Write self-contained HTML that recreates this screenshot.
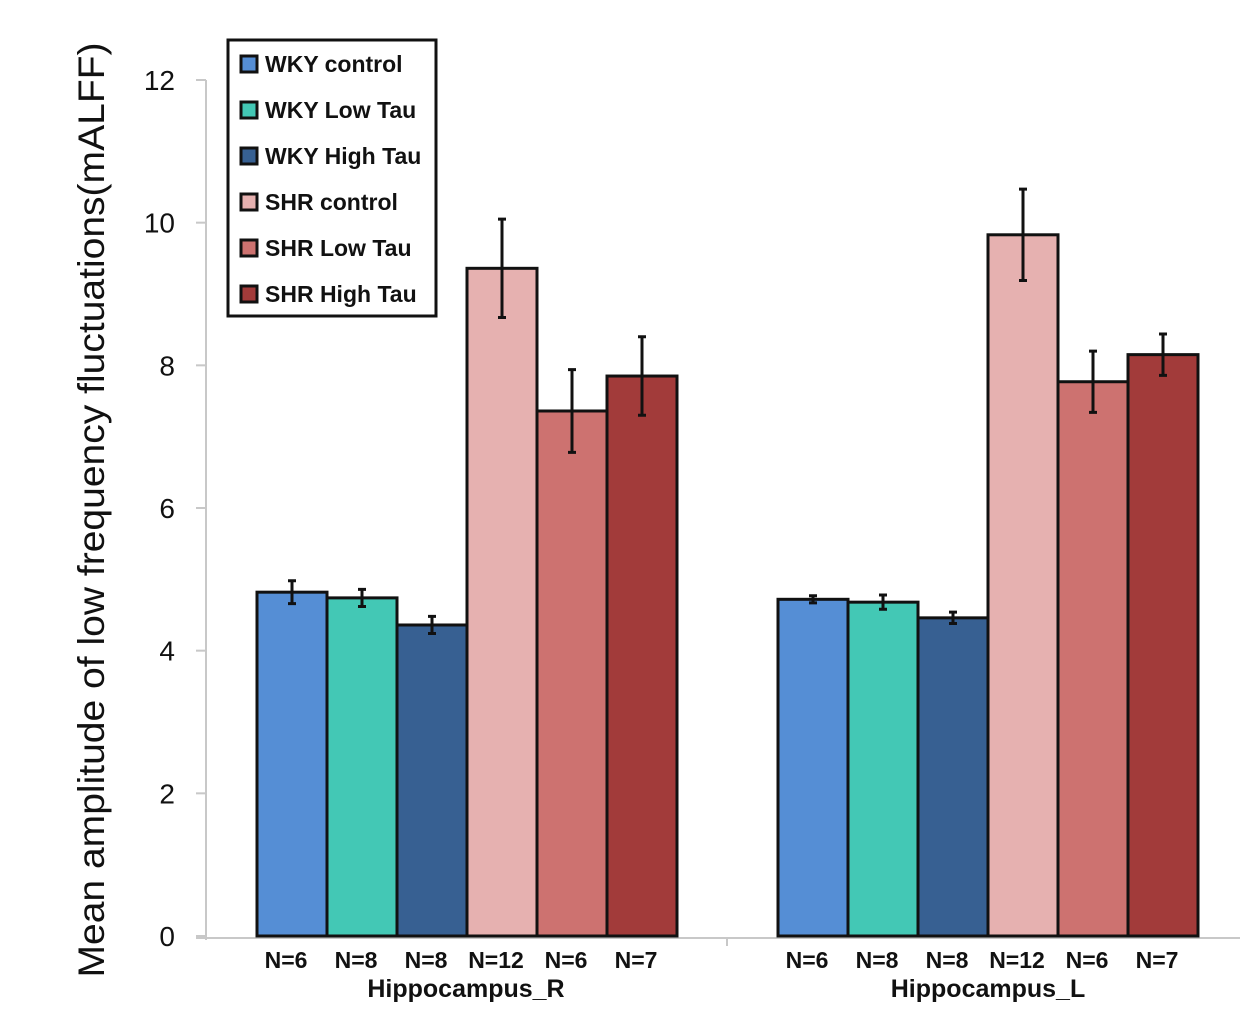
<!DOCTYPE html>
<html><head><meta charset="utf-8"><style>
body{margin:0;background:#fff;}
svg{display:block;font-family:"Liberation Sans",sans-serif;}
</style></head><body>
<svg id="chart" width="1242" height="1029" viewBox="0 0 1242 1029" xmlns="http://www.w3.org/2000/svg">
<g id="axes"></g><g id="bars"></g><g id="legend"></g>
</svg>
<script>
const regions = ["Hippocampus_R", "Hippocampus_L"];
const seriesNames = ["WKY control","WKY Low Tau","WKY High Tau","SHR control","SHR Low Tau","SHR High Tau"];
const seriesColors = ["#558ed5","#43c8b5","#376092","#e6b1b0","#cd7270","#a23b3a"];
const valuesR = [4.82, 4.74, 4.36, 9.36, 7.36, 7.85];
const valuesL = [4.72, 4.68, 4.46, 9.83, 7.77, 8.15];
const errR = [0.16, 0.12, 0.12, 0.69, 0.58, 0.55];
const errL = [0.05, 0.1, 0.08, 0.64, 0.43, 0.29];
const nLabelsR = ["N=6","N=8","N=8","N=12","N=6","N=7"];
const nLabelsL = ["N=6","N=8","N=8","N=12","N=6","N=7"];
const yTicks = [0, 2, 4, 6, 8, 10, 12];

const NS = "http://www.w3.org/2000/svg";
function mk(tag, attrs, parent, text){const e=document.createElementNS(NS,tag);for(const k in attrs)e.setAttribute(k,attrs[k]);if(text!==undefined)e.textContent=text;parent.appendChild(e);return e;}
const y0=936, yTop=80, yMax=12;
const yS = v => y0 - v*(y0-yTop)/yMax;
const groupStart=[257,778], barW=70;
const xBar = (g,i) => groupStart[g] + i*barW;
const groupLabelX=[466,988];

const axes=document.getElementById('axes');
let e=mk('line',{x1:206,y1:yTop,x2:206,y2:940,stroke:'#c8c8c8','stroke-width':2},axes);


e=mk('line',{x1:196,y1:938,x2:1240,y2:938,stroke:'#c8c8c8','stroke-width':2},axes);


mk('line',{x1:727,y1:938,x2:727,y2:946,stroke:'#c8c8c8','stroke-width':2},axes);
yTicks.forEach(t=>{
  mk('line',{x1:196,y1:yS(t),x2:206,y2:yS(t),stroke:'#c8c8c8','stroke-width':2},axes);
  const tx=mk('text',{x:175,y:yS(t)+10,'text-anchor':'end','font-size':28,fill:'#111'},axes,String(t));
  
  
});
e=mk('text',{x:0,y:0,transform:'translate(104,510) rotate(-90)','text-anchor':'middle','font-size':37,fill:'#111',textLength:935,lengthAdjust:'spacingAndGlyphs'},axes,'Mean amplitude of low frequency fluctuations(mALFF)');



const bars=document.getElementById('bars');
[[valuesR,errR,nLabelsR],[valuesL,errL,nLabelsL]].forEach((d,g)=>{
  d[0].forEach((v,i)=>{
    const x=xBar(g,i);
    const r=mk('rect',{x:x,y:yS(v),width:barW,height:y0-yS(v),fill:seriesColors[i],stroke:'#111','stroke-width':3},bars);
    
    
    const cx=x+barW/2, hi=yS(v+d[1][i]), lo=yS(v-d[1][i]);
    const eb=mk('path',{d:`M${cx},${hi}V${lo}M${cx-4},${hi}H${cx+4}M${cx-4},${lo}H${cx+4}`,stroke:'#111','stroke-width':3,fill:'none'},bars);
    
    
    const nl=mk('text',{x:cx-6,y:968,'text-anchor':'middle','font-size':23,'font-weight':'bold',fill:'#111'},bars,d[2][i]);
    
    
  });
  const gl=mk('text',{x:groupLabelX[g],y:997,'text-anchor':'middle','font-size':25,'font-weight':'bold',fill:'#111'},bars,regions[g]);
  
  
});

const leg=document.getElementById('legend');
e=mk('rect',{x:228,y:40,width:208,height:276,fill:'#fff',stroke:'#111','stroke-width':3},leg);


seriesNames.forEach((n,i)=>{
  const y=64+i*46;
  const s=mk('rect',{x:241,y:y-8,width:16,height:16,fill:seriesColors[i],stroke:'#111','stroke-width':3},leg);
  
  
  const t=mk('text',{x:265,y:y+8,'font-size':23,'font-weight':'bold',fill:'#111'},leg,n);
  
  
});
</script>
</body></html>
